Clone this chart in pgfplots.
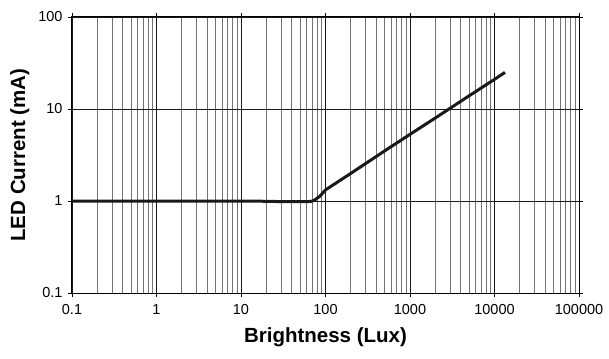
\documentclass[border=0pt]{standalone}
\usepackage{fontspec}
\setmainfont{Liberation Sans}
\usepackage{pgfplots}
\pgfplotsset{compat=1.18}
\usetikzlibrary{calc}
\begin{document}
\begin{tikzpicture}
\begin{axis}[
  scale only axis,
  width=507pt, height=276pt,
  xmode=log, ymode=log,
  xmin=0.1, xmax=100000, ymin=0.1, ymax=100,
  xtick={0.1,1,10,100,1000,10000,100000},
  xticklabels={0.1,1,10,100,1000,10000,100000},
  ytick={0.1,1,10,100},
  yticklabels={0.1,1,10,100},
  minor xtick={0.2,0.3,0.4,0.5,0.6,0.7,0.8,0.9,2,3,4,5,6,7,8,9,20,30,40,50,60,70,80,90,200,300,400,500,600,700,800,900,2000,3000,4000,5000,6000,7000,8000,9000,20000,30000,40000,50000,60000,70000,80000,90000},
  minor ytick={},
  xmajorgrids, ymajorgrids, xminorgrids,
  major grid style={black!90, line width=0.9pt},
  minor grid style={black!55, line width=0.9pt},
  tick align=outside,
  major tick length=4pt, minor tick length=0pt,
  tick style={black, line width=0.9pt},
  axis line style={black, line width=1pt},
  tick label style={font=\fontsize{14.5}{16}\selectfont},
  xticklabel style={yshift=-4pt},
  yticklabel style={xshift=-2pt},
  xlabel={\textbf{Brightness (Lux)}},
  ylabel={\textbf{LED Current (mA)}},
  label style={font=\fontsize{20.5}{22}\selectfont},
  xlabel style={yshift=-6pt},
  ylabel style={yshift=2pt},
]
\addplot[black!90, line width=3pt, line join=round] coordinates {
(0.1,1) (5,1) (15,0.997) (25,0.988) (40,0.982) (60,0.985) (68,0.99) (75,1.03) (86,1.13) (100,1.32) (200,2.0) (500,3.5) (1000,5.3) (2000,8.0) (5000,13.9) (10000,21.0) (13300,25.0)
};
\end{axis}
\pgfresetboundingbox
\path ($(current axis.south west)+(-72pt,-65pt)$) rectangle ($(current axis.north east)+(30pt,17pt)$);
\end{tikzpicture}
\end{document}
